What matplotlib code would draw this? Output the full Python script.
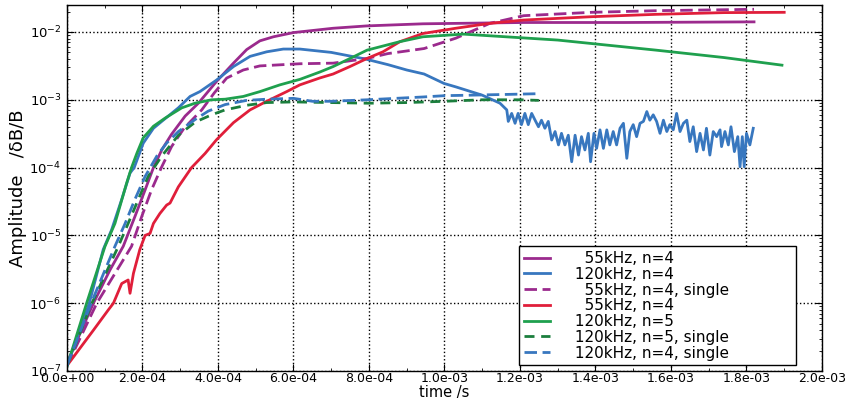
import matplotlib
matplotlib.use("Agg")
import matplotlib.pyplot as plt
from matplotlib.ticker import FuncFormatter, MultipleLocator, LogLocator, NullFormatter

# ---------------- data (time in s, amplitude dB/B) ----------------
t_p55 = [0, 7.0e-5, 1.14e-4, 1.49e-4, 1.80e-4, 2.07e-4, 2.29e-4, 2.51e-4, 2.77e-4, 3.13e-4,
         3.48e-4, 3.96e-4, 4.41e-4, 4.76e-4, 5.11e-4, 5.47e-4, 6.0e-4, 7.05e-4, 7.95e-4,
         9.43e-4, 1.21e-3, 1.475e-3, 1.82e-3]
a_p55 = [1.3e-7, 1.0e-6, 3.1e-6, 6.9e-6, 1.9e-5, 4.7e-5, 1.0e-4, 1.82e-4, 3.1e-4, 5.75e-4,
         8.9e-4, 1.86e-3, 3.47e-3, 5.5e-3, 7.4e-3, 8.5e-3, 9.8e-3, 1.135e-2, 1.23e-2,
         1.32e-2, 1.38e-2, 1.38e-2, 1.41e-2]

t_b120 = [0, 5.9e-5, 9.6e-5, 1.18e-4, 1.45e-4, 1.67e-4, 1.78e-4, 2.02e-4, 2.29e-4, 2.51e-4,
          2.95e-4, 3.26e-4, 3.52e-4, 3.96e-4, 4.41e-4, 4.85e-4, 5.29e-4, 5.73e-4, 6.17e-4,
          7.0e-4, 7.9e-4, 8.5e-4, 9.0e-4, 9.46e-4, 9.99e-4, 1.03e-3, 1.10e-3,
          1.147e-3, 1.165e-3, 1.169e-3, 1.178e-3, 1.187e-3, 1.195e-3, 1.204e-3, 1.213e-3,
          1.222e-3, 1.231e-3, 1.240e-3, 1.249e-3, 1.257e-3, 1.266e-3, 1.275e-3, 1.284e-3,
          1.293e-3, 1.302e-3, 1.310e-3, 1.319e-3, 1.328e-3, 1.337e-3, 1.346e-3, 1.355e-3,
          1.363e-3, 1.372e-3, 1.381e-3, 1.387e-3, 1.396e-3, 1.403e-3, 1.412e-3, 1.421e-3,
          1.430e-3, 1.438e-3, 1.447e-3, 1.456e-3, 1.465e-3, 1.474e-3, 1.483e-3, 1.491e-3,
          1.500e-3, 1.509e-3, 1.518e-3, 1.527e-3, 1.536e-3, 1.544e-3, 1.553e-3, 1.562e-3,
          1.571e-3, 1.580e-3, 1.589e-3, 1.597e-3, 1.606e-3, 1.615e-3, 1.624e-3, 1.633e-3,
          1.642e-3, 1.650e-3, 1.659e-3, 1.668e-3, 1.677e-3, 1.686e-3, 1.694e-3, 1.703e-3,
          1.712e-3, 1.721e-3, 1.730e-3, 1.734e-3, 1.743e-3, 1.752e-3, 1.759e-3, 1.768e-3,
          1.777e-3, 1.783e-3, 1.789e-3, 1.794e-3, 1.800e-3, 1.809e-3, 1.818e-3]
a_b120 = [1.2e-7, 1.0e-6, 6.2e-6, 1.2e-5, 3.4e-5, 8.3e-5, 1.0e-4, 2.29e-4, 3.8e-4, 4.8e-4,
          7.6e-4, 1.12e-3, 1.32e-3, 1.95e-3, 3.09e-3, 4.37e-3, 5.1e-3, 5.6e-3, 5.6e-3,
          5.0e-3, 4.0e-3, 3.3e-3, 2.75e-3, 2.4e-3, 1.74e-3, 1.55e-3, 1.17e-3,
          8.9e-4, 7.1e-4, 4.8e-4, 6.3e-4, 4.5e-4, 6.3e-4, 4.3e-4, 6.3e-4,
          4.3e-4, 6.3e-4, 5.0e-4, 4.0e-4, 5.0e-4, 3.8e-4, 4.8e-4, 2.55e-4,
          3.4e-4, 2.16e-4, 3.2e-4, 2.16e-4, 3.0e-4, 1.22e-4, 3.0e-4, 1.53e-4,
          2.86e-4, 1.82e-4, 3.2e-4, 1.22e-4, 3.2e-4, 1.92e-4, 3.6e-4, 1.92e-4,
          3.6e-4, 2.16e-4, 3.4e-4, 2.16e-4, 3.8e-4, 4.5e-4, 1.37e-4, 3.4e-4,
          4.3e-4, 2.86e-4, 4.5e-4, 4.8e-4, 6.7e-4, 5.0e-4, 6.0e-4, 4.8e-4,
          3.2e-4, 5.0e-4, 3.4e-4, 4.3e-4, 3.6e-4, 6.3e-4, 3.4e-4, 4.5e-4,
          5.0e-4, 2.42e-4, 4.0e-4, 1.72e-4, 3.2e-4, 1.82e-4, 3.8e-4, 1.53e-4,
          3.4e-4, 2.86e-4, 3.6e-4, 2.04e-4, 3.4e-4, 2.16e-4, 4.0e-4, 1.72e-4,
          2.86e-4, 1.03e-4, 2.86e-4, 1.03e-4, 3.2e-4, 2.16e-4, 3.8e-4]

t_p55s = [0, 7.9e-5, 1.71e-4, 1.98e-4, 2.24e-4, 2.50e-4, 2.77e-4, 3.10e-4, 3.57e-4, 3.90e-4,
          4.23e-4, 4.67e-4, 5.11e-4, 5.73e-4, 6.17e-4, 7.05e-4, 7.95e-4, 8.5e-4, 9.46e-4,
          1.03e-3, 1.12e-3, 1.21e-3, 1.39e-3, 1.56e-3, 1.82e-3]
a_p55s = [1.2e-7, 1.0e-6, 6.9e-6, 1.9e-5, 4.7e-5, 1.0e-4, 2.04e-4, 3.8e-4, 7.1e-4, 1.26e-3,
          2.09e-3, 2.75e-3, 3.16e-3, 3.3e-3, 3.4e-3, 3.47e-3, 4.07e-3, 4.8e-3, 5.7e-3,
          8.1e-3, 1.34e-2, 1.74e-2, 1.95e-2, 2.06e-2, 2.16e-2]

t_r55 = [0, 7.0e-5, 1.09e-4, 1.23e-4, 1.45e-4, 1.62e-4, 1.67e-4, 1.76e-4, 1.93e-4, 2.07e-4,
         2.20e-4, 2.29e-4, 2.46e-4, 2.64e-4, 2.73e-4, 2.95e-4, 3.30e-4, 3.66e-4, 3.96e-4,
         4.41e-4, 4.85e-4, 5.29e-4, 5.82e-4, 6.17e-4, 6.70e-4, 7.05e-4, 7.5e-4, 7.95e-4,
         8.37e-4, 8.82e-4, 9.43e-4, 1.03e-3, 1.12e-3, 1.21e-3, 1.39e-3, 1.56e-3, 1.74e-3, 1.90e-3]
a_r55 = [1.2e-7, 4.0e-7, 7.9e-7, 1.0e-6, 1.95e-6, 2.2e-6, 1.4e-6, 2.75e-6, 6.2e-6, 1.0e-5,
         1.07e-5, 1.5e-5, 2.1e-5, 2.8e-5, 3.0e-5, 5.2e-5, 1.0e-4, 1.62e-4, 2.57e-4,
         4.6e-4, 7.1e-4, 9.5e-4, 1.32e-3, 1.66e-3, 2.1e-3, 2.4e-3, 3.1e-3, 4.07e-3,
         5.1e-3, 7.2e-3, 9.5e-3, 1.135e-2, 1.34e-2, 1.5e-2, 1.68e-2, 1.82e-2, 1.93e-2, 1.95e-2]

t_g120 = [0, 5.2e-5, 1.007e-4, 1.27e-4, 1.58e-4, 1.71e-4, 1.85e-4, 2.02e-4, 2.29e-4, 2.60e-4,
          3.04e-4, 3.39e-4, 3.83e-4, 4.19e-4, 4.67e-4, 5.11e-4, 5.64e-4, 6.17e-4, 6.7e-4,
          7.05e-4, 7.5e-4, 7.95e-4, 8.82e-4, 9.43e-4, 1.05e-3, 1.30e-3, 1.56e-3, 1.74e-3, 1.894e-3]
a_g120 = [1.17e-7, 1.0e-6, 6.9e-6, 1.5e-5, 5.9e-5, 1.0e-4, 1.62e-4, 2.75e-4, 4.07e-4, 5.37e-4,
          7.6e-4, 8.9e-4, 1.0e-3, 1.02e-3, 1.12e-3, 1.32e-3, 1.66e-3, 2.0e-3, 2.57e-3,
          3.09e-3, 4.07e-3, 5.4e-3, 7.2e-3, 8.5e-3, 9.3e-3, 7.6e-3, 5.4e-3, 4.2e-3, 3.24e-3]

t_g120s = [0, 6.6e-5, 1.36e-4, 1.62e-4, 1.89e-4, 2.15e-4, 2.51e-4, 2.95e-4, 3.4e-4, 3.83e-4,
           4.19e-4, 4.76e-4, 5.29e-4, 6.0e-4, 7.0e-4, 8.0e-4, 9.0e-4, 1.0e-3, 1.1e-3, 1.2e-3, 1.25e-3]
a_g120s = [1.2e-7, 1.0e-6, 6.9e-6, 1.5e-5, 3.4e-5, 7.4e-5, 1.48e-4, 3.0e-4, 4.7e-4, 6.0e-4,
           7.1e-4, 8.3e-4, 9.1e-4, 9.3e-4, 9.1e-4, 8.9e-4, 9.1e-4, 9.5e-4, 1.0e-3, 1.0e-3, 9.8e-4]

t_b120s = [0, 6.4e-5, 1.27e-4, 1.54e-4, 1.80e-4, 2.07e-4, 2.38e-4, 2.64e-4, 2.95e-4, 3.39e-4,
           3.74e-4, 4.19e-4, 4.76e-4, 5.29e-4, 6.0e-4, 6.5e-4, 7.0e-4, 7.95e-4, 9.43e-4,
           1.0e-3, 1.07e-3, 1.165e-3, 1.25e-3]
a_b120s = [1.2e-7, 1.0e-6, 6.9e-6, 1.5e-5, 3.4e-5, 7.4e-5, 1.48e-4, 2.3e-4, 3.4e-4, 5.1e-4,
           6.8e-4, 8.5e-4, 9.8e-4, 1.02e-3, 1.05e-3, 9.5e-4, 9.5e-4, 1.0e-3, 1.1e-3,
           1.15e-3, 1.17e-3, 1.2e-3, 1.23e-3]

labels = ["   55kHz, n=4", " 120kHz, n=4", "   55kHz, n=4, single", "   55kHz, n=4",
          " 120kHz, n=5", " 120kHz, n=5, single", " 120kHz, n=4, single"]

# ---------------- styling ----------------
PURPLE = "#9B2A8D"
BLUE = "#3877BF"
RED = "#E01E3A"
GREEN = "#1FA04E"
DGREEN = "#1B7E3D"

plt.rcParams['font.family'] = ['DejaVu Sans']

fig = plt.figure(figsize=(8.48, 4.0), dpi=100)
ax = fig.add_axes([0.0790, 0.0725, 0.8903, 0.915])

lw = 2.0
ax.plot(t_p55, a_p55, color=PURPLE, lw=lw, label=labels[0])
ax.plot(t_b120, a_b120, color=BLUE, lw=lw, label=labels[1])
ax.plot(t_p55s, a_p55s, color=PURPLE, lw=lw, dashes=(4.5, 2), label=labels[2])
ax.plot(t_r55, a_r55, color=RED, lw=lw, label=labels[3])
ax.plot(t_g120, a_g120, color=GREEN, lw=lw, label=labels[4])
ax.plot(t_g120s, a_g120s, color=DGREEN, lw=lw, dashes=(3.6, 2.4), label=labels[5])
ax.plot(t_b120s, a_b120s, color=BLUE, lw=lw, dashes=(4.5, 2), label=labels[6])

ax.set_yscale('log')
ax.set_xlim(0, 2.0e-3)
ax.set_ylim(1e-7, 2.5e-2)

ax.xaxis.set_major_locator(MultipleLocator(2e-4))
ax.xaxis.set_minor_locator(MultipleLocator(1e-4))
ax.xaxis.set_major_formatter(FuncFormatter(lambda v, p: "%.1e" % v))
ax.yaxis.set_major_locator(LogLocator(base=10, numticks=20))
ax.yaxis.set_minor_locator(LogLocator(base=10, subs=range(2, 10), numticks=20))
ax.yaxis.set_minor_formatter(NullFormatter())

ax.tick_params(which='both', direction='in', top=True, right=True)
ax.tick_params(axis='x', labelsize=9, pad=1)
ax.tick_params(axis='y', labelsize=9.5, pad=4)
ax.tick_params(which='major', length=5, width=0.8)
ax.tick_params(which='minor', length=2.5, width=0.6)

ax.grid(True, which='major', linestyle=':', color='black', linewidth=1.0)
for s in ax.spines.values():
    s.set_linewidth(1.0)

ax.set_xlabel("time /s", fontsize=10.5, va='top')
ax.xaxis.set_label_coords(0.5, -0.0385)
ax.set_ylabel("Amplitude   /\u03b4B/B", fontsize=13, labelpad=2)

leg = ax.legend(loc='lower left', bbox_to_anchor=(0.599, 0.016, 0.367, 0.317),
                mode='expand', borderaxespad=0,
                fontsize=11, labelspacing=0.05, handlelength=1.7, handletextpad=1.3,
                borderpad=0.3, fancybox=False, framealpha=1.0, edgecolor='black')
leg.get_frame().set_linewidth(1.0)

fig.savefig("out.png", dpi=100)
